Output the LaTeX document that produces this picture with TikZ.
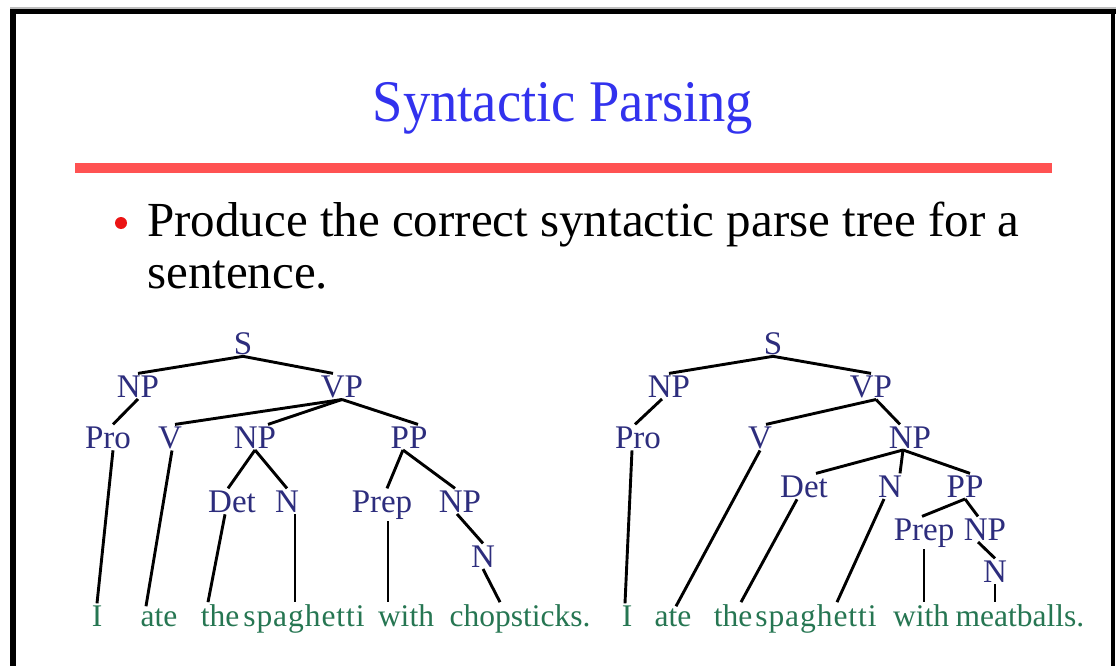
\documentclass[tikz,border=0pt]{standalone}
\usepackage{fontspec}
\setmainfont{Liberation Serif}
\usepackage{graphicx}
\definecolor{titleblue}{RGB}{50,50,238}
\definecolor{barred}{RGB}{255,82,82}
\definecolor{dotred}{RGB}{235,20,20}
\definecolor{labcol}{RGB}{45,45,125}
\definecolor{wordcol}{RGB}{38,118,82}
\definecolor{framegray}{RGB}{190,190,190}
\begin{document}
\begin{tikzpicture}[x=1pt,y=-1pt,
  lab/.style={inner sep=0pt, outer sep=2pt, anchor=base, text=labcol, font=\fontsize{33}{38}\selectfont},
  word/.style={inner sep=0pt, outer sep=2pt, anchor=base, text=wordcol, font=\fontsize{31.5}{36}\selectfont},
  edge/.style={line width=2.9pt, draw=black},
  bodytext/.style={inner sep=0pt, anchor=base west, text=black, font=\fontsize{49}{56}\selectfont}]
\useasboundingbox (0,0) rectangle (1116,666);
\fill[white] (0,0) rectangle (1116,666);
% frame
\fill[framegray] (10,7.5) rectangle (1116,9);
\fill[black] (10,9) rectangle (1116,14);
\fill[black] (10,9) rectangle (16,666);
\fill[black] (1111,9) rectangle (1115,666);
% title
\node[inner sep=0pt, anchor=base, text=titleblue, font=\fontsize{59}{62}\selectfont] (title) at (563,122) {\scalebox{0.925}[1]{Syntactic Parsing}};
\fill[barred] (75,163) rectangle (1052,173);
% bullet
\fill[dotred] (121,223) circle (6);
\node[bodytext] (line1) at (147,236) {Produce the correct syntactic parse tree for a};
\node[bodytext] (line2) at (147,288) {sentence.};

% ---------- left tree ----------
\node[lab] (lS) at (243,354) {S};
\node[lab] (lNP) at (138,397) {NP};
\node[lab] (lVP) at (342,397) {VP};
\node[lab] (lPro) at (108,448) {Pro};
\node[lab] (lV) at (170,448) {V};
\node[lab] (lNPb) at (255,448) {NP};
\node[lab] (lPP) at (409,448) {PP};
\node[lab] (lDet) at (232,512) {Det};
\node[lab] (lN) at (287,512) {N};
\node[lab] (lPrep) at (382,512) {Prep};
\node[lab] (lNPc) at (460,512) {NP};
\node[lab] (lNd) at (483,567) {N};
\node[word] (lw1) at (97,626) {I};
\node[word] (lw2) at (159,626) {ate};
\node[word] (lw3) at (220,626) {the};
\node[word] (lw4) at (304,626) {\addfontfeature{LetterSpace=3}spaghetti};
\node[word] (lw5) at (406,626) {with};
\node[word] (lw6) at (520,626) {chopsticks.};

\draw[edge] (lS.south) -- (lNP.north);
\draw[edge] (lS.south) -- ([xshift=-9pt]lVP.north);
\draw[edge] (lNP.south) -- ([xshift=5pt]lPro.north);
\draw[edge] (lVP.south) -- ([xshift=5pt]lV.north);
\draw[edge] (lVP.south) -- ([xshift=13pt]lNPb.north);
\draw[edge] (lVP.south) -- ([xshift=9pt]lPP.north);
\draw[edge] (lNPb.south) -- ([xshift=-4pt]lDet.north);
\draw[edge] (lNPb.south) -- (lN.north);
\draw[edge] ([xshift=-6pt]lPP.south) -- ([xshift=5pt]lPrep.north);
\draw[edge] ([xshift=-6pt]lPP.south) -- ([xshift=-5pt]lNPc.north);
\draw[edge] ([xshift=-3pt]lNPc.south) -- (lNd.north);
\draw[edge] ([xshift=5pt]lPro.south) -- (lw1.north);
\draw[edge] ([xshift=2pt]lV.south) -- ([xshift=-13pt]lw2.north);
\draw[edge] ([xshift=-7pt]lDet.south) -- ([xshift=-12pt]lw3.north);
\draw[edge] ([xshift=8pt]lN.south) -- ([xshift=-9pt]lw4.north);
\draw[edge] ([xshift=6pt]lPrep.south) -- ([xshift=-18pt]lw5.north);
\draw[edge] (lNd.south) -- ([xshift=-20pt]lw6.north);

% ---------- right tree ----------
\node[lab] (rS) at (773,354) {S};
\node[lab] (rNP) at (669,397) {NP};
\node[lab] (rVP) at (871,397) {VP};
\node[lab] (rPro) at (638,448) {Pro};
\node[lab] (rV) at (760,448) {V};
\node[lab] (rNPb) at (910,448) {NP};
\node[lab] (rDet) at (804,497) {Det};
\node[lab] (rN) at (890,497) {N};
\node[lab] (rPP) at (965,497) {PP};
\node[lab] (rPrep) at (924,540) {Prep};
\node[lab] (rNPc) at (985,540) {NP};
\node[lab] (rNd) at (995,582) {N};
\node[word] (rw1) at (627,626) {I};
\node[word] (rw2) at (673,626) {ate};
\node[word] (rw3) at (733,626) {the};
\node[word] (rw4) at (816,626) {\addfontfeature{LetterSpace=3}spaghetti};
\node[word] (rw5) at (921,626) {with};
\node[word] (rw6) at (1020,626) {meatballs.};

\draw[edge] (rS.south) -- (rNP.north);
\draw[edge] (rS.south) -- (rVP.north);
\draw[edge] ([xshift=-7pt]rNP.south) -- ([xshift=-3pt]rPro.north);
\draw[edge] ([xshift=5pt]rVP.south) -- ([xshift=6pt]rV.north);
\draw[edge] ([xshift=5pt]rVP.south) -- ([xshift=-10pt]rNPb.north);
\draw[edge] ([xshift=-7pt]rNPb.south) -- ([xshift=12pt]rDet.north);
\draw[edge] ([xshift=-7pt]rNPb.south) -- ([xshift=10pt]rN.north);
\draw[edge] ([xshift=-7pt]rNPb.south) -- ([xshift=5pt]rPP.north);
\draw[edge] (rPP.south) -- ([xshift=-2pt]rPrep.north);
\draw[edge] (rPP.south) -- ([xshift=-7pt]rNPc.north);
\draw[edge] ([xshift=-7pt]rNPc.south) -- (rNd.north);
\draw[edge] ([xshift=-6pt]rPro.south) -- ([xshift=-2pt]rw1.north);
\draw[edge] (rV.south) -- ([xshift=3pt]rw2.north);
\draw[edge] ([xshift=-7pt]rDet.south) -- ([xshift=8pt]rw3.north);
\draw[edge] ([xshift=-6pt]rN.south) -- ([xshift=21pt]rw4.north);
\draw[edge] (rPrep.south) -- ([xshift=3pt]rw5.north);
\draw[edge] (rNd.south) -- ([xshift=-25pt]rw6.north);
\end{tikzpicture}
\end{document}
